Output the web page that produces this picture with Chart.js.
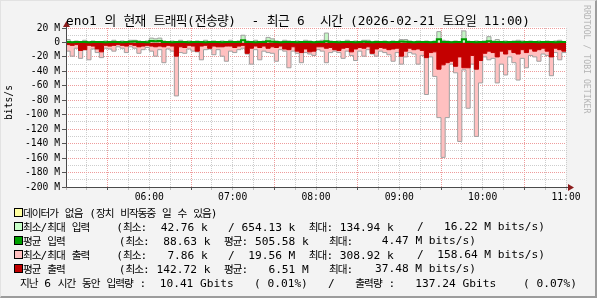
<!DOCTYPE html>
<html>
<head>
<meta charset="utf-8">
<script src="https://cdn.jsdelivr.net/npm/chart.js@4.4.1/dist/chart.umd.min.js"></script>
<style>
body { margin: 0; background: #fff; }
#wrap { position: relative; width: 597px; height: 298px; background: #f3f3f3; overflow: hidden; }
#c { position: absolute; left: 0; top: 0; }
.frame { position: absolute; left: 0; top: 0; width: 597px; height: 298px; box-sizing: border-box;
  border-top: 1px solid #e2e2e2; border-left: 1px solid #e2e2e2;
  border-right: 2px solid #9c9c9c; border-bottom: 2px solid #9c9c9c; pointer-events: none; }
.txt { position: absolute; font-family: "DejaVu Sans Mono", monospace; color: #000; white-space: pre; }
.k { font-family: "Noto Sans CJK KR", sans-serif; }
#title { left: 66px; top: 12px; font-size: 12.8px; line-height: 16px; }
#title .k { font-size: 1em; letter-spacing: -0.6px; }
#unit { left: 3px; top: 100px; font-size: 9.7px; line-height: 12px; transform-origin: 0 0; transform: rotate(-90deg) translate(-20px, 0); }
#mark { left: 592px; top: 5px; font-size: 8.2px; line-height: 10px; color: #b4b4b4; transform-origin: 0 0; transform: rotate(90deg); }
.lg { font-size: 11.2px; line-height: 14px; }
.lg .k { font-size: 0.95em; letter-spacing: -1px; }
.box { position: absolute; width: 9px; height: 9px; box-sizing: border-box; border: 1px solid #000; }
</style>
</head>
<body>
<div id="wrap">
  <canvas id="c" width="597" height="298"></canvas>
  <div id="title" class="txt"></div>
  <div id="unit" class="txt">bits/s</div>
  <div id="mark" class="txt">RRDTOOL / TOBI OETIKER</div>
  <div id="legend"></div>
  <div class="frame"></div>
</div>
<script>
// ============================== DATA ==============================
// 05:00 ~ 11:00, 3분 간격 (단위 M bits/s)
const stepMinutes = 3;
const hourLabels = ['06:00', '07:00', '08:00', '09:00', '10:00', '11:00'];

const inMax = [
  4, 1, 2, 1, 3, 1, 2, 1, 1, 2, 1, 3, 1, 2, 1, 3, 3, 2, 1, 2,
  6, 5, 6, 2, 1, 2, 1, 3, 1, 2, 1, 2, 1, 3, 1, 2, 1, 2, 1, 3,
  1, 2, 10, 2, 1, 3, 1, 2, 7, 5, 2, 1, 3, 2, 1, 2, 1, 3, 2, 1,
  2, 3, 13, 2, 1, 2, 1, 3, 1, 2, 1, 3, 3, 1, 2, 1, 2, 1, 2, 1,
  4, 4, 2, 1, 2, 1, 2, 1, 2, 15, 3, 2, 1, 2, 1, 16, 2, 1, 2, 1,
  2, 8, 2, 4, 1, 2, 1, 2, 3, 2, 1, 2, 1, 2, 1, 2, 1, 2, 3, 1
];
const inAvg = [
  0.5, 0.4, 0.5, 0.6, 0.5, 0.4, 0.5, 0.6, 0.5, 0.4, 0.5, 0.6, 0.5, 0.4, 0.5, 1.0, 1.2, 0.6, 0.5, 0.4,
  2.0, 1.5, 2.0, 0.6, 0.5, 0.4, 0.5, 0.6, 0.5, 0.4, 0.5, 0.6, 0.5, 0.4, 0.5, 0.6, 0.5, 0.4, 0.5, 0.6,
  0.5, 0.6, 3.0, 0.6, 0.5, 0.4, 0.5, 0.6, 1.5, 1.0, 0.5, 0.4, 0.5, 0.6, 0.5, 0.4, 0.5, 0.6, 0.5, 0.4,
  0.5, 0.6, 1.5, 0.6, 0.5, 0.4, 0.5, 0.6, 0.5, 0.4, 0.5, 1.0, 0.8, 0.4, 0.5, 0.6, 0.5, 0.4, 0.5, 0.6,
  1.2, 1.0, 0.5, 0.4, 0.5, 0.6, 0.5, 0.4, 0.6, 4.5, 0.8, 0.5, 0.4, 0.5, 0.6, 4.4, 0.8, 0.5, 0.4, 0.5,
  0.8, 1.5, 0.6, 0.8, 0.5, 0.4, 0.5, 0.6, 0.5, 0.4, 0.5, 0.6, 0.5, 0.4, 0.5, 0.6, 0.5, 0.4, 0.5, 0.6
];
const outMax = [
  -12, -19, -8, -22, -10, -24, -9, -14, -21, -8, -9, -12, -6, -8, -14, -6, -8, -15, -10, -7,
  -12, -19, -10, -28, -9, -12, -74, -14, -15, -9, -12, -13, -24, -10, -9, -17, -10, -19, -26, -12,
  -14, -10, -8, -16, -30, -10, -24, -12, -14, -15, -26, -10, -12, -35, -12, -15, -28, -14, -16, -18,
  -10, -12, -28, -14, -12, -14, -22, -12, -18, -25, -12, -19, -10, -16, -19, -12, -14, -17, -26, -14,
  -30, -20, -14, -16, -30, -18, -72, -20, -47, -104, -159, -104, -30, -42, -137, -38, -91, -30, -130, -56,
  -20, -24, -22, -56, -30, -45, -20, -28, -52, -22, -35, -18, -20, -26, -16, -18, -46, -14, -24, -14
];
const outAvg = [
  -3, -4, -3, -11, -10, -4, -5, -9, -13, -4, -5, -4, -3, -4, -5, -3, -4, -6, -5, -4,
  -5, -6, -5, -6, -4, -5, -19, -6, -7, -4, -5, -12, -5, -4, -8, -5, -6, -6, -5, -5,
  -7, -5, -4, -15, -8, -5, -7, -5, -8, -6, -7, -5, -9, -10, -6, -12, -14, -9, -13, -12,
  -6, -6, -8, -7, -10, -11, -8, -7, -13, -9, -7, -8, -6, -15, -9, -7, -8, -10, -9, -8,
  -19, -12, -8, -10, -9, -11, -21, -14, -13, -37, -31, -28, -26, -33, -20, -35, -35, -18, -37, -25,
  -15, -12, -14, -20, -12, -16, -10, -14, -16, -10, -14, -9, -12, -10, -8, -12, -20, -8, -10, -12
];

const titleText = 'eno1 의 현재 트래픽(전송량)  - 최근 6  시간 (2026-02-21 토요일 11:00)';
// 범례: 앞부분(왼쪽부터) + 뒷부분(오른쪽 끝 정렬)
const legendHeads = [
  '데이터가 없음 (장치 비작동중 일 수 있음)',
  '최소/최대 입력    (최소:  42.76 k   / 654.13 k  최대: 134.94 k',
  '평균 입력        (최소:  88.63 k  평균: 505.58 k   최대:',
  '최소/최대 출력    (최소:   7.86 k   /  19.56 M  최대: 308.92 k',
  '평균 출력        (최소: 142.72 k  평균:   6.51 M   최대:',
  '지난 6 시간 동안 입력량 :  10.41 Gbits   ( 0.01%)   /'
];
const legendTails = [
  '',
  '/   16.22 M bits/s)',
  '4.47 M bits/s)',
  '/  158.64 M bits/s)',
  '37.48 M bits/s)',
  '출력량 :   137.24 Gbits    ( 0.07%)'
];
const legendTailEnds = [0, 545, 476, 545, 476, 577];
const legendColors = ['#ffffa0', '#c8ffc8', '#00a000', '#ffc0c0', '#c00000', null];

// ============================== TEXT ==============================
function hangul(s) {
  return s.replace(/[\uAC00-\uD7A3]+/g, m => '<span class="k">' + m + '</span>');
}

document.getElementById('title').innerHTML = hangul(titleText);

const legend = document.getElementById('legend');
legendHeads.forEach((t, i) => {
  const cy = 213 + i * 14;
  if (legendColors[i]) {
    const b = document.createElement('div');
    b.className = 'box';
    b.style.left = '14px';
    b.style.top = (cy - 5) + 'px';
    b.style.background = legendColors[i];
    legend.appendChild(b);
  }
  const d = document.createElement('div');
  d.className = 'txt lg';
  d.style.left = (legendColors[i] ? 23 : 20) + 'px';
  d.style.top = (cy - 7) + 'px';
  d.innerHTML = hangul(t);
  legend.appendChild(d);
  if (legendTails[i]) {
    const e = document.createElement('div');
    e.className = 'txt lg';
    e.style.right = (597 - legendTailEnds[i]) + 'px';
    e.style.top = (cy - 7) + 'px';
    e.innerHTML = hangul(legendTails[i]);
    legend.appendChild(e);
  }
});

// ============================== CHART ==============================
function toPoints(arr) {
  const pts = arr.map((v, i) => ({ x: i * stepMinutes, y: v }));
  pts.push({ x: arr.length * stepMinutes, y: arr[arr.length - 1] }); // 마지막 구간 닫기
  return pts;
}

const plotBg = {
  id: 'plotBg',
  beforeDraw(chart) {
    const { ctx, chartArea: a } = chart;
    ctx.save();
    ctx.fillStyle = '#ffffff';
    ctx.fillRect(a.left, a.top - 1, a.right - a.left, a.bottom - a.top + 1);
    ctx.restore();
  }
};

const axesArrows = {
  id: 'axesArrows',
  afterDraw(chart) {
    const { ctx, chartArea: a } = chart;
    const x0 = a.left + 0.5, y0 = a.bottom + 0.5;
    ctx.save();
    ctx.strokeStyle = '#4a4a4a';
    ctx.lineWidth = 1;
    ctx.beginPath();
    ctx.moveTo(x0, y0); ctx.lineTo(a.right + 2, y0);
    ctx.moveTo(x0, y0); ctx.lineTo(x0, a.top - 1);
    ctx.stroke();
    ctx.fillStyle = '#8b1c1c';
    ctx.beginPath();
    ctx.moveTo(a.right + 2, y0 - 3.5); ctx.lineTo(a.right + 8, y0); ctx.lineTo(a.right + 2, y0 + 3.5);
    ctx.fill();
    ctx.beginPath();
    ctx.moveTo(x0 - 3.5, a.top - 1); ctx.lineTo(x0, a.top - 7); ctx.lineTo(x0 + 3.5, a.top - 1);
    ctx.fill();
    ctx.restore();
  }
};

const axisFont = { family: 'DejaVu Sans Mono', size: 9.7 };

new Chart(document.getElementById('c'), {
  type: 'line',
  data: {
    datasets: [
      { data: toPoints(inAvg), borderColor: '#009a00', borderWidth: 2, fill: false },
      { data: toPoints(inMax), borderColor: '#a0a0a0', borderWidth: 1, backgroundColor: '#c4f5c4', fill: 'origin' },
      { data: toPoints(outAvg), borderColor: '#c40000', borderWidth: 1, backgroundColor: '#c40000', fill: 'origin' },
      { data: toPoints(outMax), borderColor: '#a0a0a0', borderWidth: 1, backgroundColor: '#ffc0c0', fill: 'origin' }
    ]
  },
  options: {
    responsive: false,
    animation: false,
    events: [],
    elements: { point: { radius: 0 }, line: { stepped: 'before', tension: 0 } },
    layout: { padding: { left: 0, top: 28, right: 31, bottom: 95 } },
    plugins: { legend: { display: false }, tooltip: { enabled: false } },
    scales: {
      x: {
        type: 'linear',
        min: 0,
        max: 360,
        afterFit(s) { s.height = 16; },
        border: { display: false, dash: [1, 1] },
        grid: {
          color: c => (c.tick && c.tick.value % 60 === 30) ? '#ee9c9c' : '#cdcdcd',
          tickColor: c => (c.tick && c.tick.value % 60 === 30) ? '#555555' : '#bbbbbb',
          tickLength: 3,
          tickBorderDash: []
        },
        ticks: {
          stepSize: 15,
          autoSkip: false,
          maxRotation: 0,
          padding: 2,
          color: '#000',
          font: axisFont,
          callback: v => (v % 60 === 0 && v > 0) ? hourLabels[v / 60 - 1] : ''
        }
      },
      y: {
        min: -200,
        max: 20,
        afterFit(s) { s.width = 66; },
        border: { display: false, dash: [1, 1] },
        grid: {
          color: c => (c.tick && c.tick.value % 20 === 0) ? '#ee9c9c' : '#cdcdcd',
          tickColor: c => (c.tick && c.tick.value % 20 === 0) ? '#555555' : 'rgba(0,0,0,0)',
          tickLength: 4,
          tickBorderDash: []
        },
        ticks: {
          stepSize: 10,
          autoSkip: false,
          padding: 2,
          color: '#000',
          font: axisFont,
          callback: v => v % 20 === 0 ? (v === 0 ? '0' : v + ' M') : ''
        }
      }
    }
  },
  plugins: [plotBg, axesArrows]
});
</script>
</body>
</html>
